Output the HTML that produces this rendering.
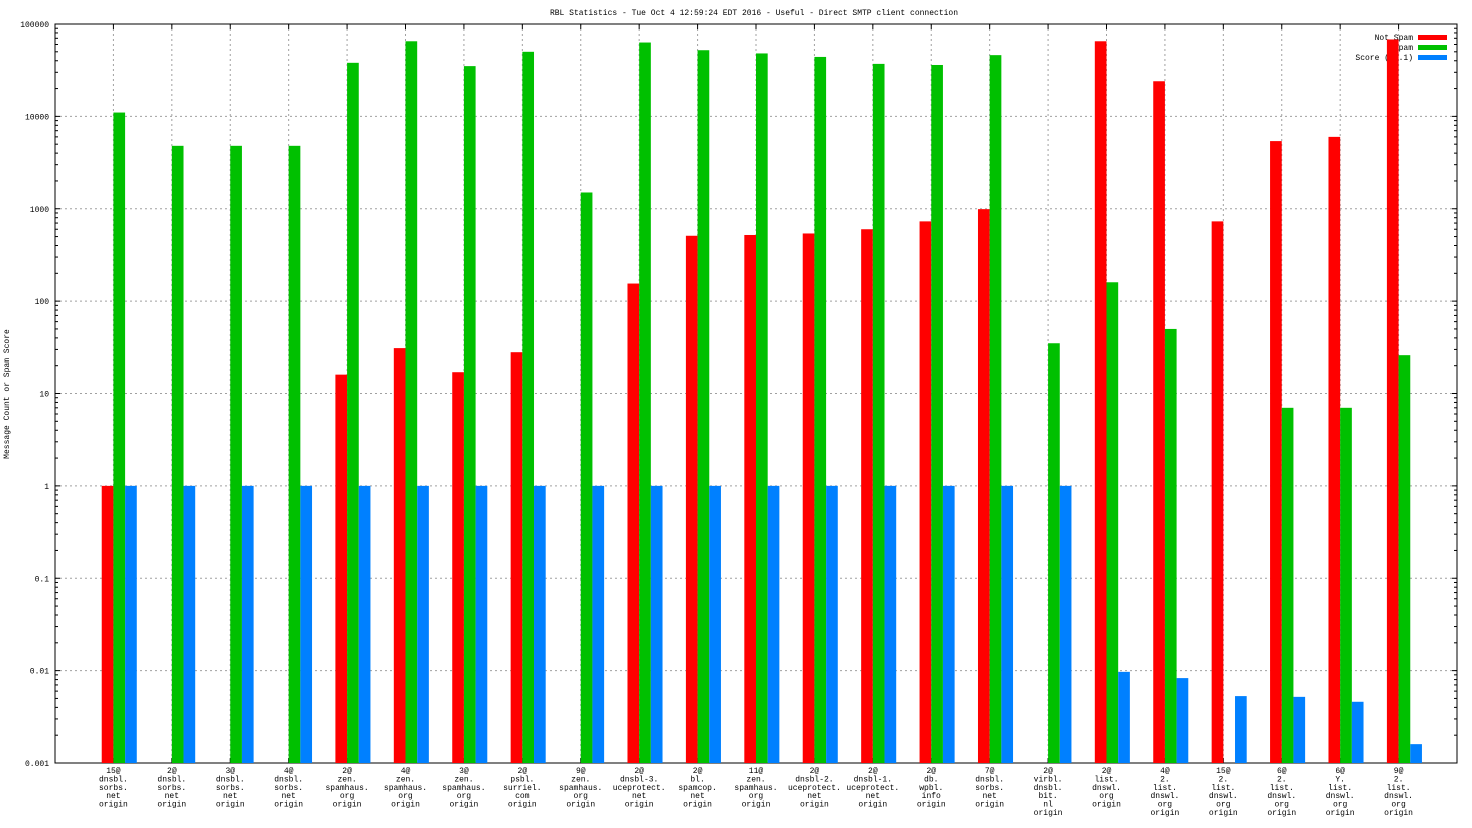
<!DOCTYPE html>
<html><head><meta charset="utf-8"><style>
html,body{margin:0;padding:0;background:#fff}
svg{display:block}
text{font-family:"Liberation Mono","DejaVu Sans Mono",monospace;font-size:8px;fill:#000}
</style></head><body>
<svg id="chart" width="1472" height="828" xmlns="http://www.w3.org/2000/svg">
<text x="754" y="15" text-anchor="middle">RBL Statistics - Tue Oct  4 12:59:24 EDT 2016 - Useful - Direct SMTP client connection</text>
<text transform="translate(9,394) rotate(-90)" text-anchor="middle">Message Count or Spam Score</text>
<g id="grid"></g><g id="bars"></g><g id="axes"></g><g id="legend"></g>
</svg>
<script>
const categories=[
["15@","dnsbl.","sorbs.","net","origin"],["2@","dnsbl.","sorbs.","net","origin"],["3@","dnsbl.","sorbs.","net","origin"],["4@","dnsbl.","sorbs.","net","origin"],
["2@","zen.","spamhaus.","org","origin"],["4@","zen.","spamhaus.","org","origin"],["3@","zen.","spamhaus.","org","origin"],["2@","psbl.","surriel.","com","origin"],
["9@","zen.","spamhaus.","org","origin"],["2@","dnsbl-3.","uceprotect.","net","origin"],["2@","bl.","spamcop.","net","origin"],["11@","zen.","spamhaus.","org","origin"],
["2@","dnsbl-2.","uceprotect.","net","origin"],["2@","dnsbl-1.","uceprotect.","net","origin"],["2@","db.","wpbl.","info","origin"],["7@","dnsbl.","sorbs.","net","origin"],
["2@","virbl.","dnsbl.","bit.","nl","origin"],["2@","list.","dnswl.","org","origin"],["4@","2.","list.","dnswl.","org","origin"],["15@","2.","list.","dnswl.","org","origin"],
["6@","2.","list.","dnswl.","org","origin"],["6@","Y.","list.","dnswl.","org","origin"],["9@","2.","list.","dnswl.","org","origin"]];
const notSpam=[1,null,null,null,16,31,17,28,null,155,510,520,540,600,730,990,null,65000,24000,730,5400,6000,68000];
const spam=[11000,4800,4800,4800,38000,65000,35000,50000,1500,63000,52000,48000,44000,37000,36000,46000,35,160,50,null,7,7,26];
const score=[1,1,1,1,1,1,1,1,1,1,1,1,1,1,1,1,1,0.0097,0.0083,0.0053,0.0052,0.0046,0.0016];
const yTicks=[0.001,0.01,0.1,1,10,100,1000,10000,100000];
const yTickLabels=["0.001","0.01","0.1","1","10","100","1000","10000","100000"];
const seriesNames=["Not Spam","Spam","Score (0..1)"];
const colors=["#ff0000","#00c000","#0080ff"];

const L=55,R=1457,T=24,B=763,NS="http://www.w3.org/2000/svg";
const step=(R-L)/(categories.length+1);
function y(v){return B-(Math.log10(v)+3)/8*(B-T);}
function xc(i){return L+(i+1)*step;}
function mk(tag,attrs,parent){const e=document.createElementNS(NS,tag);for(const k in attrs)e.setAttribute(k,attrs[k]);document.getElementById(parent).appendChild(e);return e;}
yTicks.forEach((v,k)=>{
 if(k>0&&k<yTicks.length-1){const g=mk('line',{x1:L,x2:R,y1:y(v),y2:y(v),stroke:'#a0a0a0','stroke-dasharray':'2,3'},'grid');
 
 }
 const t=mk('text',{x:L-6,y:y(v)+3,'text-anchor':'end'},'axes');t.textContent=yTickLabels[k];
 
 
 mk('line',{x1:L,x2:L+5,y1:y(v),y2:y(v),stroke:'#000'},'axes');
 mk('line',{x1:R,x2:R-5,y1:y(v),y2:y(v),stroke:'#000'},'axes');
 if(k<yTicks.length-1){for(let m=2;m<10;m++){const yy=y(v*m);mk('line',{x1:L,x2:L+3,y1:yy,y2:yy,stroke:'#000'},'axes');mk('line',{x1:R,x2:R-3,y1:yy,y2:yy,stroke:'#000'},'axes');}}
});
categories.forEach((c,i)=>{
 const x=xc(i);
 const g=mk('line',{x1:x,x2:x,y1:T,y2:B,stroke:'#a0a0a0','stroke-dasharray':'2,3'},'grid');
 
 
 mk('line',{x1:x,x2:x,y1:B,y2:B-5,stroke:'#000'},'axes');
 mk('line',{x1:x,x2:x,y1:T,y2:T+5,stroke:'#000'},'axes');
 c.forEach((s,j)=>{const t=mk('text',{x:x,y:B+10+j*8.4,'text-anchor':'middle'},'axes');t.textContent=s;
 
 });
 const bw=step/5;
 [notSpam,spam,score].forEach((arr,s)=>{
  const v=arr[i];if(v==null)return;
  const top=y(v);
  const r=mk('rect',{x:x-bw+s*bw,y:top,width:bw,height:B-top,fill:colors[s]},'bars');
  
  
 });
});
const frame=mk('rect',{x:L,y:T,width:R-L,height:B-T,fill:'none',stroke:'#000'},'axes');


seriesNames.forEach((n,s)=>{
 const yy=37+s*10;
 const t=mk('text',{x:1413,y:yy+3,'text-anchor':'end'},'legend');t.textContent=n;
 
 
 const r=mk('rect',{x:1418,y:yy-2,width:29,height:5,fill:colors[s]},'legend');
 
 
});
document.getElementById('chart').appendChild(document.getElementById('bars'));
</script>
</body></html>
